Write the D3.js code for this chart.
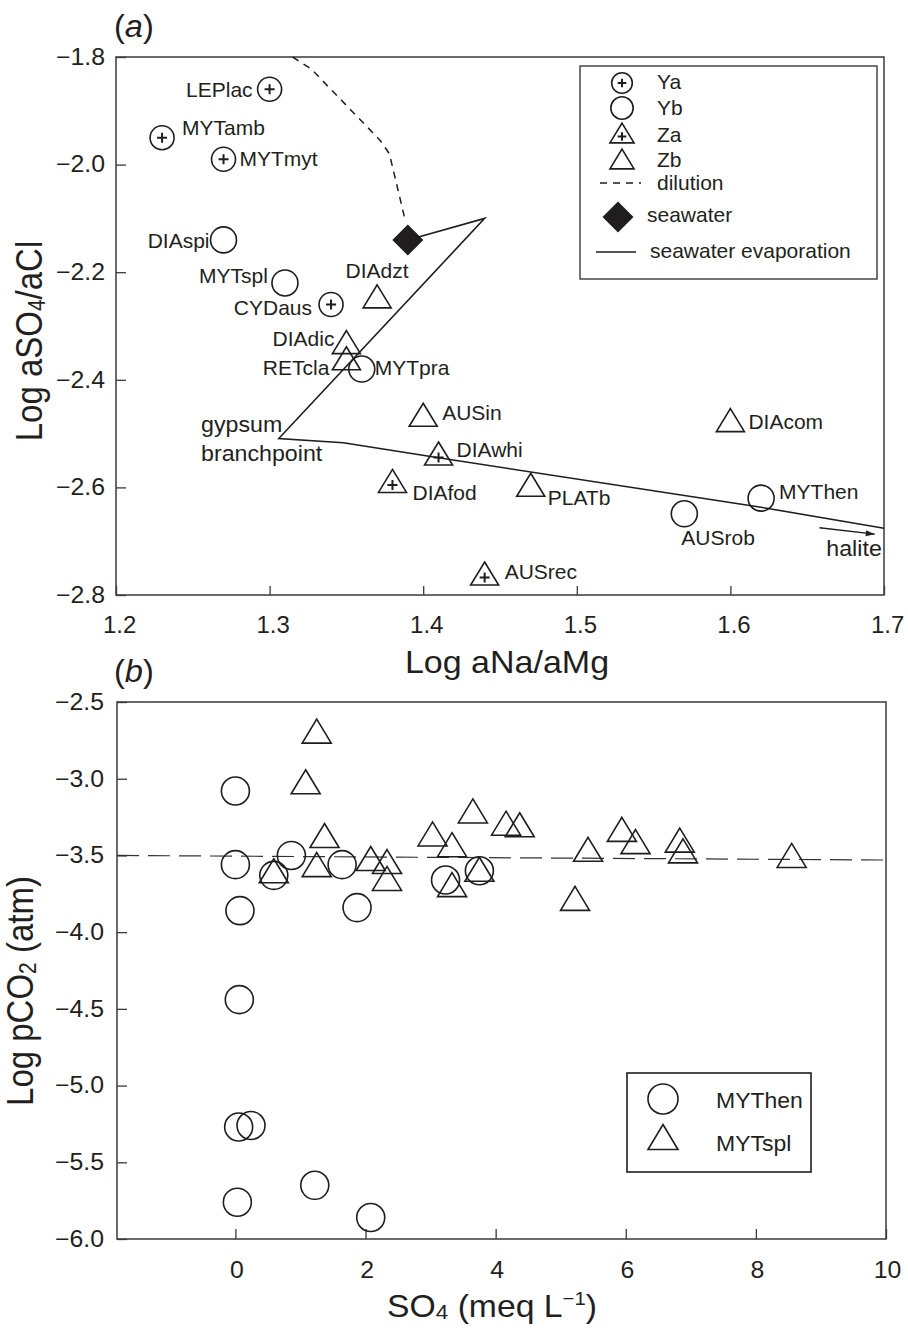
<!DOCTYPE html>
<html><head><meta charset="utf-8">
<script src="https://cdn.jsdelivr.net/npm/d3@7"></script>
<style>
body{margin:0;background:#fff}
svg{display:block}
text{font-family:"Liberation Sans",Arial,Helvetica,sans-serif;fill:#231f20}
</style>
</head><body>
<svg id="c" width="908" height="1333"></svg>
<script>
// ---------- Panel (a) data ----------
const samplesA = ["LEPlac","MYTamb","MYTmyt","DIAspi","MYTspl","CYDaus","DIAdzt","DIAdic","RETcla","MYTpra","AUSin","DIAwhi","DIAfod","AUSrec","PLATb","DIAcom","AUSrob","MYThen"];
const groupA   = ["Ya","Ya","Ya","Yb","Yb","Ya","Zb","Zb","Zb","Yb","Zb","Za","Za","Za","Zb","Zb","Yb","Yb"];
const logNaMg  = [1.30,1.23,1.27,1.27,1.31,1.34,1.37,1.35,1.35,1.36,1.40,1.41,1.38,1.44,1.47,1.60,1.57,1.62];
const logSO4Cl = [-1.86,-1.95,-1.99,-2.14,-2.22,-2.26,-2.245,-2.33,-2.36,-2.38,-2.465,-2.537,-2.588,-2.76,-2.595,-2.475,-2.649,-2.62];
const seawaterX = 1.39, seawaterY = -2.14;
const dilutionX = [1.315,1.327,1.372,1.378,1.388];
const dilutionY = [-1.80,-1.822,-1.955,-1.98,-2.10];
const evapX = [1.39,1.44,1.306,1.348,1.41,1.62,1.70];
const evapY = [-2.14,-2.10,-2.509,-2.517,-2.545,-2.637,-2.676];
const haliteX = [1.658,1.694];
const haliteY = [-2.675,-2.687];
const ticksAx = [1.2,1.3,1.4,1.5,1.6,1.7];
const ticksAy = [-1.8,-2.0,-2.2,-2.4,-2.6,-2.8];
const legendA = ["Ya","Yb","Za","Zb","dilution","seawater","seawater evaporation"];

// ---------- Panel (b) data ----------
const mythenSO4 = [0,0,0.07,0.59,0.86,1.64,1.87,3.23,3.75,0.06,0.05,0.24,0.03,1.22,2.08];
const mythenCO2 = [-3.08,-3.56,-3.86,-3.63,-3.50,-3.56,-3.84,-3.66,-3.60,-4.44,-5.27,-5.26,-5.76,-5.65,-5.86];
const mytsplSO4 = [1.25,1.08,1.37,1.25,0.59,2.08,2.33,2.33,3.03,3.33,3.33,3.65,4.16,4.37,3.75,5.42,5.22,5.94,6.15,6.83,6.88,8.55];
const mytsplCO2 = [-2.69,-3.02,-3.37,-3.56,-3.60,-3.52,-3.54,-3.65,-3.36,-3.43,-3.69,-3.21,-3.29,-3.30,-3.59,-3.46,-3.78,-3.33,-3.41,-3.40,-3.47,-3.50];
const refX = [-1.82,10];
const refY = [-3.5,-3.53];
const ticksBx = [0,2,4,6,8,10];
const ticksBy = [-2.5,-3.0,-3.5,-4.0,-4.5,-5.0,-5.5,-6.0];
const legendB = ["MYThen","MYTspl"];

// ---------- layout (positions / styles) ----------
const labelLayout = {
  LEPlac:["end",-17,8], MYTamb:["start",20,-3], MYTmyt:["start",16,7], DIAspi:["end",-14,8],
  MYTspl:["end",-17,0], CYDaus:["end",-19,11], DIAdzt:["middle",0,-18], DIAdic:["end",-12,4],
  RETcla:["end",-17,17], MYTpra:["start",13,6], AUSin:["start",19,5], DIAwhi:["start",18,3],
  DIAfod:["start",20,19], AUSrec:["start",20,6], PLATb:["start",17,20], DIAcom:["start",18,9],
  AUSrob:["start",-3,31], MYThen:["start",18,1]
};
const INK = "#1f1d1e", FRAME = "#3a3a3a";

const svg = d3.select("#c");

function stext(parent, x, y, size, sx, anchor, rot){
  return parent.append("text")
    .attr("transform",`translate(${x},${y}) scale(${sx},1)` + (rot ? ` rotate(${rot})` : ""))
    .attr("font-size",size).attr("text-anchor",anchor||"start");
}
function tri(cx, cy, w, h){ return `M${cx},${cy-h/2}L${cx+w/2},${cy+h/2}L${cx-w/2},${cy+h/2}Z`; }
function plus(g, cx, cy, a){
  g.append("path").attr("d",`M${cx-a},${cy}H${cx+a}M${cx},${cy-a}V${cy+a}`)
   .attr("stroke",INK).attr("stroke-width",2).attr("fill","none");
}
function symbolA(g, type, cx, cy, s){
  s = s || 1;
  if(type==="Ya"){
    g.append("circle").attr("cx",cx).attr("cy",cy).attr("r",12*s).attr("fill","none").attr("stroke",INK).attr("stroke-width",1.6);
    plus(g,cx,cy,5*s);
  } else if(type==="Yb"){
    g.append("circle").attr("cx",cx).attr("cy",cy).attr("r",13*s).attr("fill","none").attr("stroke",INK).attr("stroke-width",1.6);
  } else if(type==="Za"){
    g.append("path").attr("d",tri(cx,cy,28*s,23*s)).attr("fill","none").attr("stroke",INK).attr("stroke-width",1.6);
    plus(g,cx,cy+4*s,5*s);
  } else if(type==="Zb"){
    g.append("path").attr("d",tri(cx,cy,28*s,23*s)).attr("fill","none").attr("stroke",INK).attr("stroke-width",1.6);
  }
}
function styleAxis(g, size, sx){
  g.select(".domain").remove();
  g.selectAll(".tick line").attr("stroke",FRAME).attr("stroke-width",1.3);
  g.attr("font-size",null).attr("font-family",null);
  g.selectAll(".tick text").attr("font-size",size).attr("fill","#231f20")
    .style("font-family",'"Liberation Sans",Arial,Helvetica,sans-serif')
    .each(function(){
      const t=d3.select(this), x=+(t.attr("x")||0), y=+(t.attr("y")||0);
      t.attr("x",0).attr("y",0).attr("transform",`translate(${x},${y}) scale(${sx},1)`);
    });
}

// ================= Panel (a) =================
const xA = d3.scaleLinear().domain([1.2,1.7]).range([116,884]);
const yA = d3.scaleLinear().domain([-2.8,-1.8]).range([595,57]);
const gA = svg.append("g");

gA.append("rect").attr("x",xA.range()[0]).attr("y",yA.range()[1])
  .attr("width",xA.range()[1]-xA.range()[0]).attr("height",yA.range()[0]-yA.range()[1])
  .attr("fill","none").attr("stroke",FRAME).attr("stroke-width",1.5);

const axAy = gA.append("g").attr("transform",`translate(${xA.range()[0]},0)`)
  .call(d3.axisLeft(yA).tickValues(ticksAy).tickFormat(d3.format(".1f")).tickSize(-10).tickSizeOuter(0).tickPadding(11));
styleAxis(axAy,23,1.08);
const axAx = gA.append("g").attr("transform",`translate(0,${yA.range()[0]})`)
  .call(d3.axisBottom(xA).tickValues(ticksAx).tickFormat(d3.format(".1f")).tickSize(-9).tickSizeOuter(0).tickPadding(21));
styleAxis(axAx,23.5,1.02);
axAx.selectAll(".tick text").attr("dx",3);

// dilution (dashed)
const lineA = d3.line().x(d=>xA(d[0])).y(d=>yA(d[1]));
gA.append("path").attr("d",lineA(d3.zip(dilutionX,dilutionY)))
  .attr("fill","none").attr("stroke",INK).attr("stroke-width",1.5).attr("stroke-dasharray","7,6");
// seawater evaporation (solid)
gA.append("path").attr("d",lineA(d3.zip(evapX,evapY)))
  .attr("fill","none").attr("stroke",INK).attr("stroke-width",1.6);
// halite arrow
{
  const x0=xA(haliteX[0]), y0=yA(haliteY[0]), x1=xA(haliteX[1]), y1=yA(haliteY[1]);
  gA.append("line").attr("x1",x0).attr("y1",y0).attr("x2",x1).attr("y2",y1).attr("stroke",INK).attr("stroke-width",1.3);
  const ang=Math.atan2(y1-y0,x1-x0), L=9, W=3;
  const bx=x1-L*Math.cos(ang), by=y1-L*Math.sin(ang);
  gA.append("path").attr("d",`M${x1},${y1}L${bx+W*Math.sin(ang)},${by-W*Math.cos(ang)}L${bx-W*Math.sin(ang)},${by+W*Math.cos(ang)}Z`).attr("fill",INK);
  stext(gA, x1+7, y0+28, 21.5, 1.08, "end").text("halite");
}
// points
samplesA.forEach((s,i)=>{
  const cx=xA(logNaMg[i]), cy=yA(logSO4Cl[i]);
  symbolA(gA,groupA[i],cx,cy);
  const L=labelLayout[s];
  gA.append("text").attr("x",cx+L[1]).attr("y",cy+L[2]).attr("text-anchor",L[0]).attr("font-size",21).text(s);
});
// seawater diamond
{
  const cx=xA(seawaterX), cy=yA(seawaterY), d=15.5;
  gA.append("path").attr("d",`M${cx},${cy-d}L${cx+d},${cy}L${cx},${cy+d}L${cx-d},${cy}Z`).attr("fill",INK);
}
// gypsum branchpoint label
stext(gA, 201, 432, 21.5, 1.08).text("gypsum");
stext(gA, 201, 461, 21.5, 1.08).text("branchpoint");

// legend (a)
{
  const lg = gA.append("g");
  lg.append("rect").attr("x",580).attr("y",66).attr("width",297).attr("height",213)
    .attr("fill","#fff").attr("stroke",FRAME).attr("stroke-width",1.4);
  const symY=[83,108,133,159];
  const txtY=[89,115,142,167];
  ["Ya","Yb","Za","Zb"].forEach((t,i)=>{
    symbolA(lg,t,622,symY[i],0.86);
    lg.append("text").attr("x",657).attr("y",txtY[i]).attr("font-size",21).text(legendA[i]);
  });
  lg.append("line").attr("x1",600).attr("x2",641).attr("y1",183).attr("y2",183)
    .attr("stroke",INK).attr("stroke-width",1.5).attr("stroke-dasharray","7,6");
  lg.append("text").attr("x",657).attr("y",190).attr("font-size",21).text(legendA[4]);
  const d=15.5, cx=618, cy=217;
  lg.append("path").attr("d",`M${cx},${cy-d}L${cx+d},${cy}L${cx},${cy+d}L${cx-d},${cy}Z`).attr("fill",INK);
  lg.append("text").attr("x",647).attr("y",222).attr("font-size",21).text(legendA[5]);
  lg.append("line").attr("x1",596).attr("x2",636).attr("y1",252).attr("y2",252).attr("stroke",INK).attr("stroke-width",1.5);
  lg.append("text").attr("x",650).attr("y",258).attr("font-size",21).text(legendA[6]);
}

// titles (a)
{
  const t = stext(svg, 114, 37, 31, 1.05);
  t.append("tspan").text("(");
  t.append("tspan").attr("font-style","italic").text("a");
  t.append("tspan").text(")");
  stext(svg, 507, 673, 31.5, 1.08, "middle").text("Log aNa/aMg");
  const yt = stext(svg, 42, 341, 33, 1.1, "middle", -90);
  yt.append("tspan").text("Log aSO");
  yt.append("tspan").attr("font-size",21).attr("dy",3).text("4");
  yt.append("tspan").attr("dy",-3).text("/aCl");
}

// ================= Panel (b) =================
const xB = d3.scaleLinear().domain([-1.82,10]).range([117,886]);
const yB = d3.scaleLinear().domain([-6,-2.5]).range([1239,702]);
const gB = svg.append("g");
gB.append("rect").attr("x",xB.range()[0]).attr("y",yB.range()[1])
  .attr("width",xB.range()[1]-xB.range()[0]).attr("height",yB.range()[0]-yB.range()[1])
  .attr("fill","none").attr("stroke",FRAME).attr("stroke-width",1.5);
const axBy = gB.append("g").attr("transform",`translate(${xB.range()[0]},0)`)
  .call(d3.axisLeft(yB).tickValues(ticksBy).tickFormat(d3.format(".1f")).tickSize(-10).tickSizeOuter(0).tickPadding(13));
styleAxis(axBy,23,1.08);
const axBx = gB.append("g").attr("transform",`translate(0,${yB.range()[0]})`)
  .call(d3.axisBottom(xB).tickValues(ticksBx).tickFormat(d3.format("d")).tickSize(-10).tickSizeOuter(0).tickPadding(23));
styleAxis(axBx,23,1.08);
axBx.selectAll(".tick text").attr("dx",1);

const lineB = d3.line().x(d=>xB(d[0])).y(d=>yB(d[1]));
gB.append("path").attr("d",lineB(d3.zip(refX,refY)))
  .attr("fill","none").attr("stroke","#333").attr("stroke-width",1.2).attr("stroke-dasharray","22,9");

mythenSO4.forEach((v,i)=>{
  gB.append("circle").attr("cx",xB(v)).attr("cy",yB(mythenCO2[i])).attr("r",14)
    .attr("fill","none").attr("stroke",INK).attr("stroke-width",1.6);
});
mytsplSO4.forEach((v,i)=>{
  gB.append("path").attr("d",tri(xB(v),yB(mytsplCO2[i]),29,24))
    .attr("fill","none").attr("stroke",INK).attr("stroke-width",1.6);
});

// legend (b)
{
  const lg = gB.append("g");
  lg.append("rect").attr("x",627).attr("y",1073).attr("width",184).attr("height",99)
    .attr("fill","#fff").attr("stroke",INK).attr("stroke-width",1.6);
  lg.append("circle").attr("cx",663).attr("cy",1099).attr("r",15).attr("fill","none").attr("stroke",INK).attr("stroke-width",1.6);
  lg.append("path").attr("d",tri(663,1137,30,25)).attr("fill","none").attr("stroke",INK).attr("stroke-width",1.6);
  stext(lg, 716, 1108, 21.5, 1.07).text(legendB[0]);
  stext(lg, 716, 1151, 21.5, 1.07).text(legendB[1]);
}

// titles (b)
{
  const t = stext(svg, 114, 682, 31, 1.05);
  t.append("tspan").text("(");
  t.append("tspan").attr("font-style","italic").text("b");
  t.append("tspan").text(")");
  const yt = stext(svg, 33, 991, 33, 1.1, "middle", -90);
  yt.append("tspan").text("Log pCO");
  yt.append("tspan").attr("font-size",21).attr("dy",3).text("2");
  yt.append("tspan").attr("dy",-3).text(" (atm)");
  const xt = stext(svg, 492, 1317, 31.5, 1.07, "middle");
  xt.append("tspan").text("SO");
  xt.append("tspan").attr("font-size",21).attr("dy",2).text("4");
  xt.append("tspan").attr("dy",-2).text(" (meq L");
  xt.append("tspan").attr("font-size",19).attr("dy",-12).text("−1");
  xt.append("tspan").attr("dy",12).text(")");
}
</script>
</body></html>
